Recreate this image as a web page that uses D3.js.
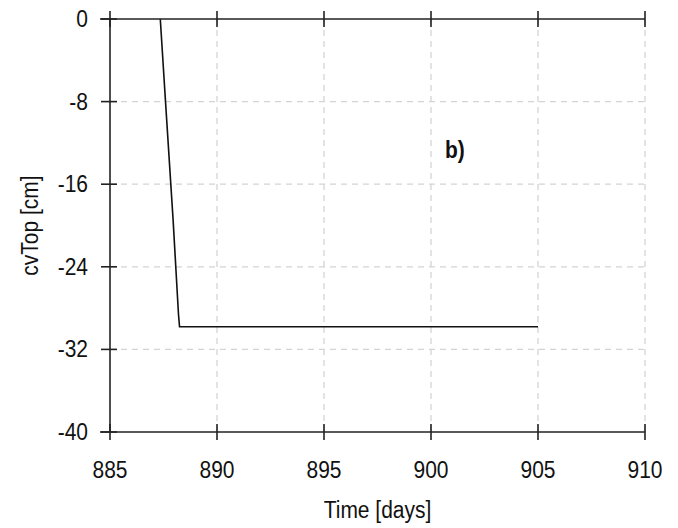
<!DOCTYPE html>
<html><head><meta charset="utf-8">
<script src="https://cdn.jsdelivr.net/npm/d3@7"></script>
<style>body{margin:0;background:#fff}svg{display:block}text{font-family:"Liberation Sans",Arial,sans-serif;fill:#111}</style>
</head><body><svg id="c" width="678" height="528"></svg>
<script>
const xTicks = [885, 890, 895, 900, 905, 910];
const yTicks = [0, -8, -16, -24, -32, -40];
const timeDays = [887.35, 887.6, 887.95, 888.2, 888.25, 905];
const cvTop = [0, -8.2, -19.5, -28.6, -29.8, -29.8];
const xLabel = "Time [days]";
const yLabel = "cvTop [cm]";
const annotation = "b)";

const svg = d3.select("#c");
const L = 110, R = 645, T = 19, B = 432;
const x = d3.scaleLinear().domain([885, 910]).range([L, R]);
const y = d3.scaleLinear().domain([-40, 0]).range([B, T]);
const sy = 1.15;

// grid
const g = svg.append("g");
g.selectAll(".vg").data(xTicks.slice(1)).join("line")
  .attr("x1", d => x(d)).attr("x2", d => x(d)).attr("y1", T).attr("y2", B)
  .attr("stroke", "#d4d4d4").attr("stroke-dasharray", "6,5").attr("stroke-width", 1.3);
g.selectAll(".hg").data(yTicks.slice(1, -1)).join("line")
  .attr("x1", L).attr("x2", R).attr("y1", d => y(d)).attr("y2", d => y(d))
  .attr("stroke", "#d4d4d4").attr("stroke-dasharray", "6,5").attr("stroke-width", 1.3);

// data line
const pts = timeDays.map((t, i) => [t, cvTop[i]]);
svg.append("path").datum(pts)
  .attr("d", d3.line().x(d => x(d[0])).y(d => y(d[1])))
  .attr("fill", "none").attr("stroke", "#111").attr("stroke-width", 1.6);

// axes lines
const ax = svg.append("g").attr("stroke", "#222").attr("stroke-width", 1.6);
ax.append("line").attr("x1", L - 10).attr("x2", R).attr("y1", B).attr("y2", B);
ax.append("line").attr("x1", L - 10).attr("x2", R).attr("y1", T).attr("y2", T);
ax.append("line").attr("x1", L).attr("x2", L).attr("y1", T).attr("y2", B);
ax.selectAll(".bt").data(xTicks).join("line")
  .attr("x1", d => x(d)).attr("x2", d => x(d)).attr("y1", B - 8).attr("y2", B + 8);
ax.selectAll(".tt").data(xTicks).join("line")
  .attr("x1", d => x(d)).attr("x2", d => x(d)).attr("y1", T - 8).attr("y2", T + 8);
ax.selectAll(".lt").data(yTicks).join("line")
  .attr("x1", L - 9).attr("x2", L + 7).attr("y1", d => y(d)).attr("y2", d => y(d));

// tick labels
svg.selectAll(".xl").data(xTicks).join("text")
  .attr("transform", d => `translate(${x(d)},478) scale(1,${sy})`)
  .attr("text-anchor", "middle").attr("font-size", 21).text(d => d);
svg.selectAll(".yl").data(yTicks).join("text")
  .attr("transform", d => `translate(88,${y(d) + 8}) scale(1,${sy})`)
  .attr("text-anchor", "end").attr("font-size", 21).text(d => d);

// axis titles
svg.append("text").attr("transform", `translate(${(L + R) / 2},518) scale(1,${sy})`)
  .attr("text-anchor", "middle").attr("font-size", 21).text(xLabel);
svg.append("text").attr("transform", `translate(38,${(T + B) / 2}) rotate(-90) scale(1,${sy})`)
  .attr("text-anchor", "middle").attr("font-size", 21).text(yLabel);

// annotation
svg.append("text").attr("transform", `translate(${x(900.65)},${y(-13.45)}) scale(1,${sy})`)
  .attr("font-size", 21).attr("font-weight", "bold").text(annotation);
</script></body></html>
